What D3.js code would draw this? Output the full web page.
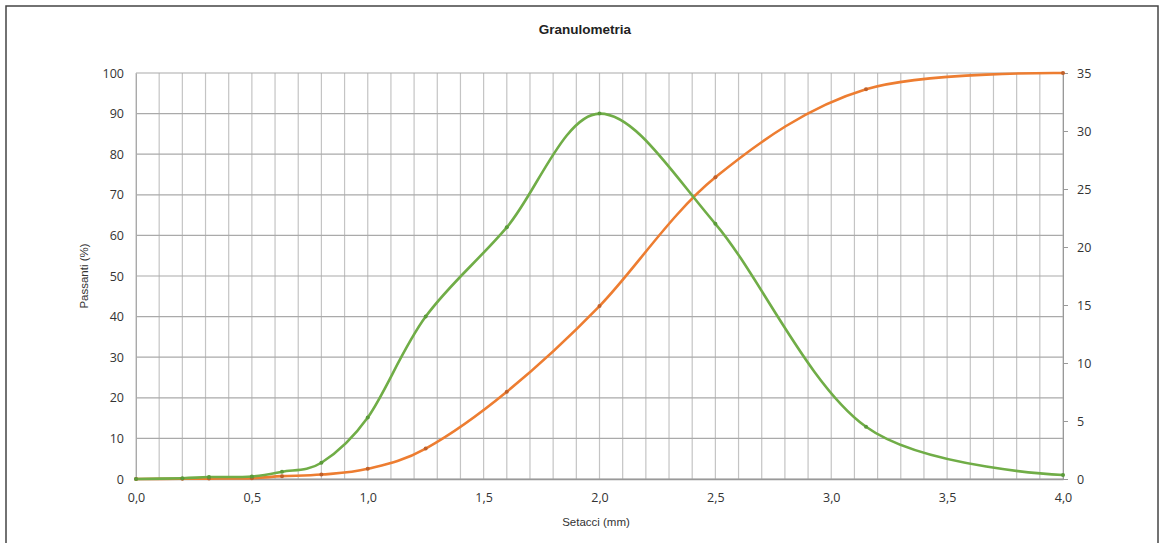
<!DOCTYPE html>
<html><head><meta charset="utf-8">
<script src="https://cdn.jsdelivr.net/npm/d3@7"></script>
<style>body{margin:0;background:#fff;}svg{display:block;}</style>
</head><body>
<svg id="c" width="1168" height="543"></svg>
<script>
const sieves = [0, 0.2, 0.315, 0.5, 0.63, 0.8, 1.0, 1.25, 1.6, 2.0, 2.5, 3.15, 4.0];
const passing = [0, 0.05, 0.1, 0.2, 0.7, 1.1, 2.5, 7.5, 21.5, 42.6, 74.3, 96.0, 100];
const retained = [0, 0.07, 0.17, 0.22, 0.63, 1.4, 5.3, 14.0, 21.7, 31.5, 22.0, 4.5, 0.35];
const leftTicks = [0,10,20,30,40,50,60,70,80,90,100];
const rightTicks = [0,5,10,15,20,25,30,35];
const xTicks = [0,0.5,1.0,1.5,2.0,2.5,3.0,3.5,4.0];

const svg = d3.select('#c');
const font = '"Open Sans", "Noto Sans", sans-serif';
const L = 136, R = 1063, T = 73, B = 479;
const x = d3.scaleLinear().domain([0,4]).range([L,R]);
const yl = d3.scaleLinear().domain([0,100]).range([B,T]);
const yr = d3.scaleLinear().domain([0,35]).range([B,T]);

// frame
svg.append('rect').attr('x',6).attr('y',6).attr('width',1152).attr('height',545)
  .attr('fill','#fff').attr('stroke','#444').attr('stroke-width',1.5);

// vertical grid every 0.1
const vg = d3.range(0,41).map(i=>i/10);
svg.append('g').selectAll('line').data(vg).join('line')
  .attr('x1',d=>x(d)).attr('x2',d=>x(d)).attr('y1',T).attr('y2',B)
  .attr('stroke','#c4c4c4').attr('stroke-width',1.2);
// horizontal grid
svg.append('g').selectAll('line').data(leftTicks).join('line')
  .attr('x1',L).attr('x2',R).attr('y1',d=>yl(d)).attr('y2',d=>yl(d))
  .attr('stroke','#aaaaaa').attr('stroke-width',1.2);

// left axis
const gl = svg.append('g').attr('transform',`translate(${L},0)`)
  .call(d3.axisLeft(yl).tickValues(leftTicks).tickSize(0).tickPadding(12));
gl.select('.domain').attr('stroke','#aaa');
gl.selectAll('text').attr('font-family',font).attr('font-size',12.5).attr('fill','#333');

// right axis
const gr = svg.append('g').attr('transform',`translate(${R},0)`)
  .call(d3.axisRight(yr).tickValues(rightTicks).tickSize(5).tickPadding(9));
gr.select('.domain').attr('stroke','#999');
gr.selectAll('line').attr('stroke','#999');
gr.selectAll('text').attr('font-family',font).attr('font-size',12.5).attr('fill','#333');

// bottom axis
const gb = svg.append('g').attr('transform',`translate(0,${B})`)
  .call(d3.axisBottom(x).tickValues(xTicks).tickSize(0).tickPadding(14)
    .tickFormat(d=>d3.format('.1f')(d).replace('.',',')));
gb.select('.domain').attr('stroke','#999').attr('stroke-width',1.3);
gb.selectAll('text').attr('font-family',font).attr('font-size',12.5).attr('fill','#333');

// lines
const curve = d3.curveCardinal.tension(0);
const lineL = d3.line().x((d,i)=>x(sieves[i])).y(d=>yl(d)).curve(curve);
const lineR = d3.line().x((d,i)=>x(sieves[i])).y(d=>yr(d)).curve(curve);
svg.append('path').attr('d',lineL(passing)).attr('fill','none').attr('stroke','#ED7D31').attr('stroke-width',2.6);
svg.append('path').attr('d',lineR(retained)).attr('fill','none').attr('stroke','#70AD47').attr('stroke-width',2.6);
svg.append('g').selectAll('circle').data(passing).join('circle')
  .attr('cx',(d,i)=>x(sieves[i])).attr('cy',d=>yl(d)).attr('r',2).attr('fill','#c0602a');
svg.append('g').selectAll('circle').data(retained).join('circle')
  .attr('cx',(d,i)=>x(sieves[i])).attr('cy',d=>yr(d)).attr('r',2).attr('fill','#5a9a3a');

// titles
svg.append('text').attr('x',585).attr('y',34).attr('text-anchor','middle')
  .attr('font-family','"Liberation Sans", Arial, sans-serif').attr('font-weight','bold').attr('font-size',13.5)
  .attr('fill','#222').text('Granulometria');
svg.append('text').attr('x',596).attr('y',526).attr('text-anchor','middle')
  .attr('font-family','"Liberation Sans", Arial, sans-serif').attr('font-size',11.5).attr('fill','#333').text('Setacci (mm)');
svg.append('text').attr('transform','translate(88,276) rotate(-90)').attr('text-anchor','middle')
  .attr('font-family','"Liberation Sans", Arial, sans-serif').attr('font-size',11.5).attr('fill','#333').text('Passanti (%)');
</script>
</body></html>
